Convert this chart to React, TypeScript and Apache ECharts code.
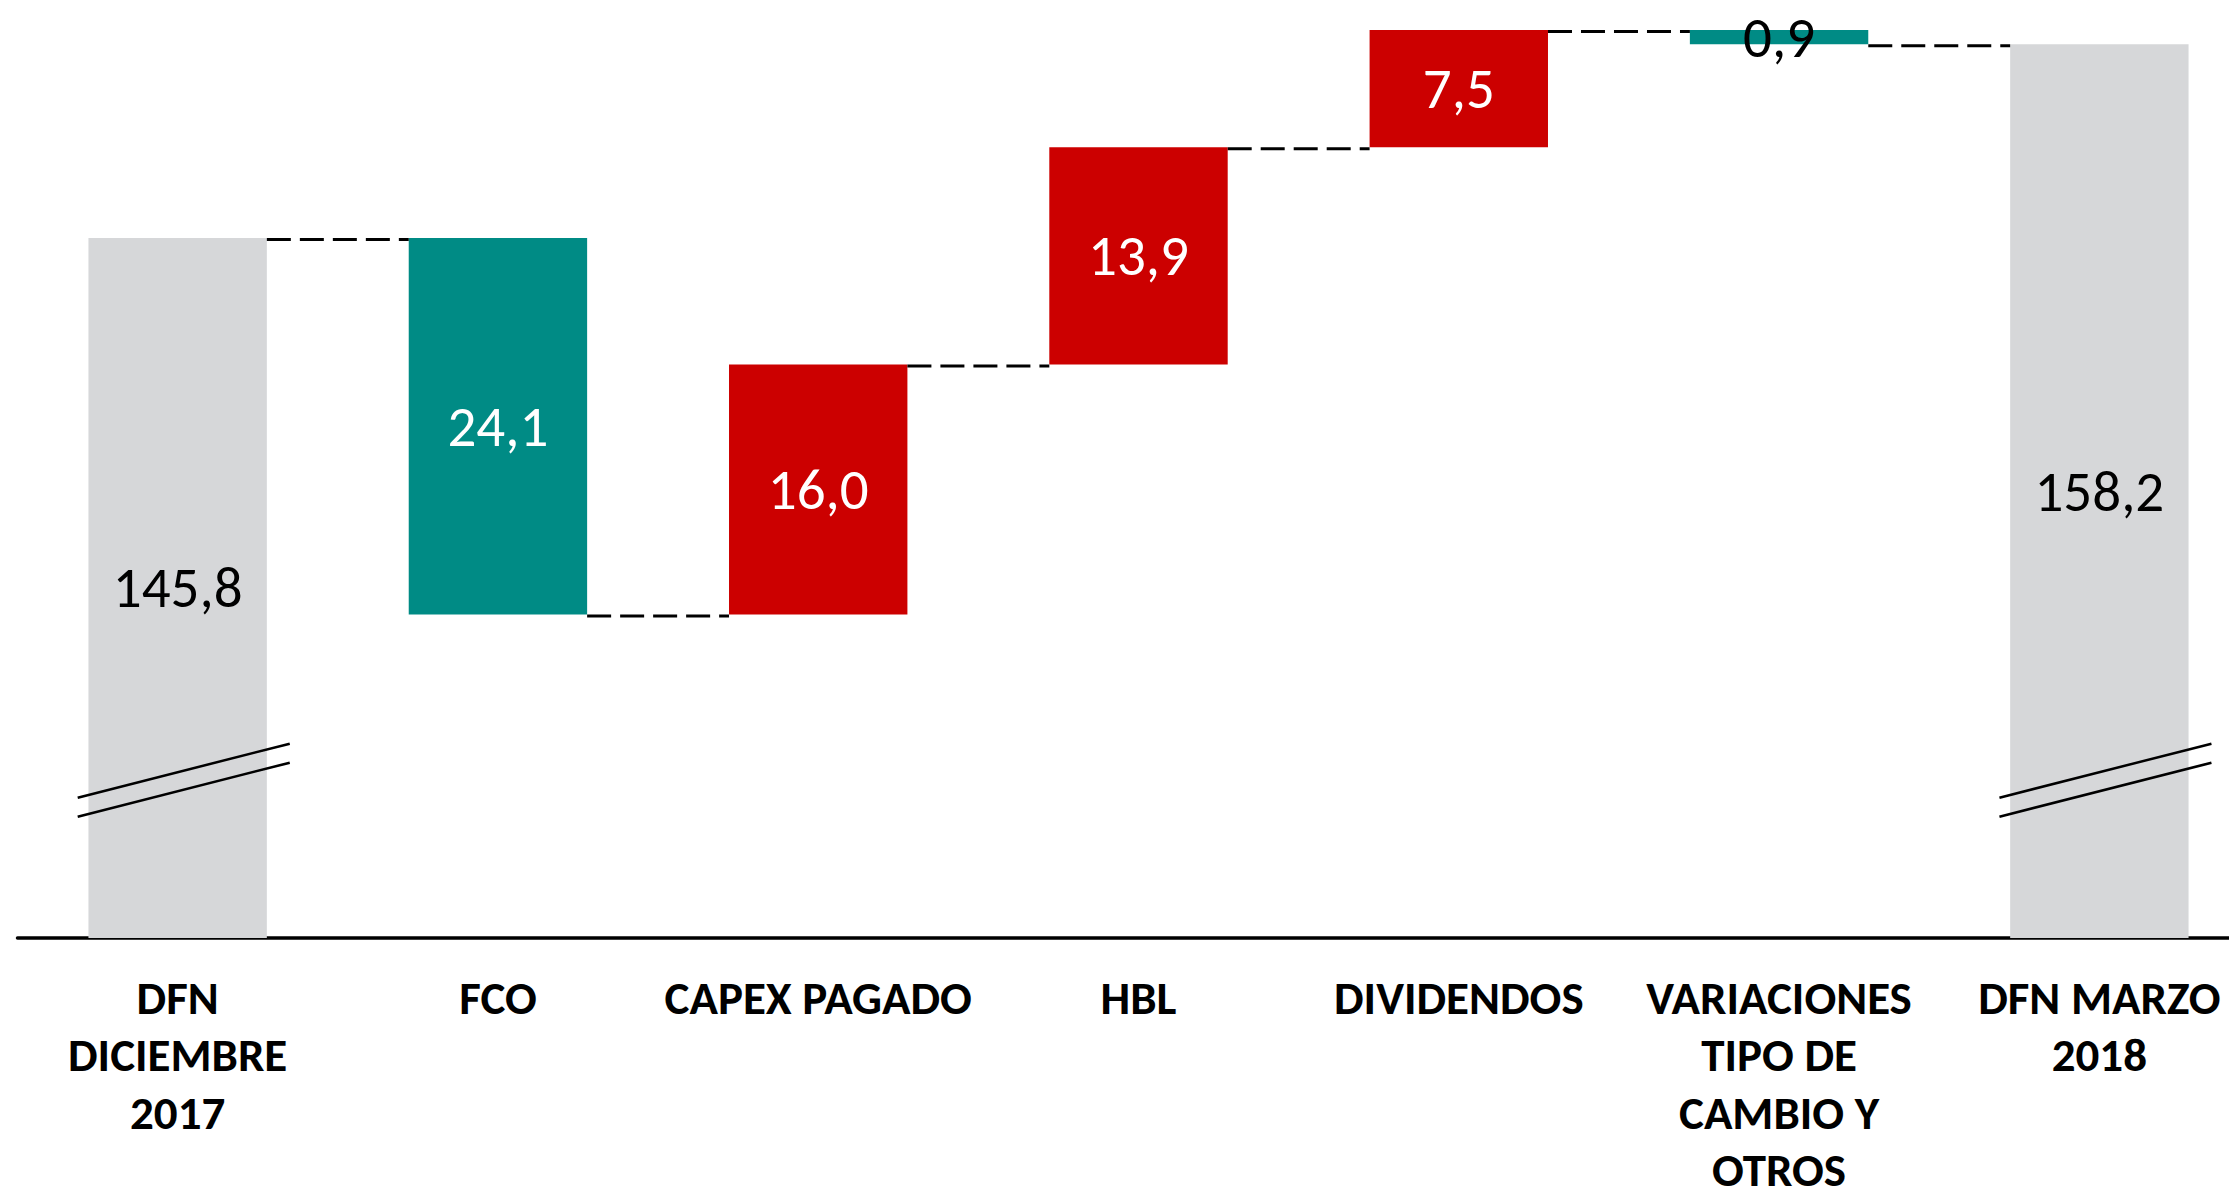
import React, { useEffect, useRef } from "react";
import * as echarts from "echarts";

const categories = [
  "DFN\nDICIEMBRE\n2017",
  "FCO",
  "CAPEX PAGADO",
  "HBL",
  "DIVIDENDOS",
  "VARIACIONES\nTIPO DE\nCAMBIO Y\nOTROS",
  "DFN MARZO\n2018",
];
const amounts = [145.8, 24.1, 16.0, 13.9, 7.5, 0.9, 158.2];
// total: full bar; down: reduces debt (teal); up: increases debt (red)
const kinds = ["total", "down", "up", "up", "up", "down", "total"];
const AXIS_MIN = 101;
const AXIS_MAX = 160;
const breakValue = 111.1;
const breakCategories = [0, 6];

const COLORS: Record<string, string> = {
  total: "#D6D7D9",
  down: "#008B85",
  up: "#CC0000",
};

const FONT = 'Carlito, Lato, "Liberation Sans Narrow", sans-serif';

function build() {
  const bases: number[] = [];
  const heights: number[] = [];
  const levels: number[] = [];
  let running = 0;
  amounts.forEach((a, i) => {
    const k = kinds[i];
    if (k === "total") {
      bases.push(AXIS_MIN);
      heights.push(a - AXIS_MIN);
      running = a;
    } else if (k === "down") {
      running = running - a;
      bases.push(running);
      heights.push(a);
    } else {
      bases.push(running);
      heights.push(a);
      running = running + a;
    }
    levels.push(running);
  });
  return { bases, heights, levels };
}

const BAR_FRAC = 0.557;

export default function App() {
  const ref = useRef<HTMLDivElement>(null);
  useEffect(() => {
    if (!ref.current) return;
    const chart = echarts.init(ref.current, null, { renderer: "svg" });
    const { bases, heights, levels } = build();
    const connectorData = levels.slice(0, levels.length - 1).map((v, i) => [i, v]);
    const breakData = breakCategories.map((c) => [c, breakValue]);

    const option: any = {
      animation: false,
      grid: {
        left: 17.5,
        width: 2242,
        top: 16,
        bottom: 255,
        containLabel: false,
        outerBoundsMode: "none",
      },
      xAxis: {
        type: "category",
        data: categories,
        axisLine: { show: true, lineStyle: { color: "#000", width: 3.5 } },
        axisTick: { show: false },
        axisLabel: {
          interval: 0,
          margin: 31,
          color: "#000",
          fontFamily: FONT,
          fontWeight: "bold",
          fontSize: 47,
          lineHeight: 57.5,
        },
        splitLine: { show: false },
      },
      yAxis: {
        type: "value",
        min: AXIS_MIN,
        max: AXIS_MAX,
        show: false,
        splitLine: { show: false },
      },
      series: [
        {
          type: "bar",
          stack: "w",
          silent: true,
          barWidth: (BAR_FRAC * 100).toFixed(1) + "%",
          itemStyle: { color: "transparent" },
          data: bases,
          z: 2,
        },
        {
          type: "bar",
          stack: "w",
          silent: true,
          barWidth: (BAR_FRAC * 100).toFixed(1) + "%",
          data: heights.map((h, i) => ({
            value: h,
            itemStyle: { color: COLORS[kinds[i]] },
            label: {
              show: true,
              position: "inside",
              formatter: () => amounts[i].toFixed(1).replace(".", ","),
              color: kinds[i] === "total" || amounts[i] < 2 ? "#000" : "#fff",
              fontFamily: FONT,
              fontSize: 57,
            },
          })),
          z: 2,
        },
        {
          type: "custom",
          silent: true,
          z: 3,
          data: connectorData,
          renderItem: (params: any, api: any) => {
            const i = api.value(0);
            const v = api.value(1);
            const p = api.coord([i, v]);
            const band = api.size([1, 0])[0];
            const half = (band * BAR_FRAC) / 2;
            return {
              type: "line",
              shape: { x1: p[0] + half, y1: p[1] + 1.5, x2: p[0] + band - half, y2: p[1] + 1.5 },
              style: { stroke: "#000", lineWidth: 3, lineDash: [24, 9] },
            };
          },
        },
        {
          type: "custom",
          silent: true,
          z: 4,
          data: breakData,
          renderItem: (params: any, api: any) => {
            const p = api.coord([api.value(0), api.value(1)]);
            const band = api.size([1, 0])[0];
            const x1 = p[0] - band * 0.312;
            const x2 = p[0] + band * 0.35;
            const rise = 54;
            const gap = 19;
            const style = { stroke: "#000", lineWidth: 2.5 };
            return {
              type: "group",
              children: [
                { type: "line", shape: { x1, y1: p[1] + rise / 2 - gap / 2, x2, y2: p[1] - rise / 2 - gap / 2 }, style },
                { type: "line", shape: { x1, y1: p[1] + rise / 2 + gap / 2, x2, y2: p[1] - rise / 2 + gap / 2 }, style },
              ],
            };
          },
        },
      ],
    };
    chart.setOption(option);
    return () => chart.dispose();
  }, []);
  return (
    <div
      ref={ref}
      style={{ position: "fixed", left: 0, top: 0, width: 2229, height: 1193, background: "#fff" }}
    />
  );
}
